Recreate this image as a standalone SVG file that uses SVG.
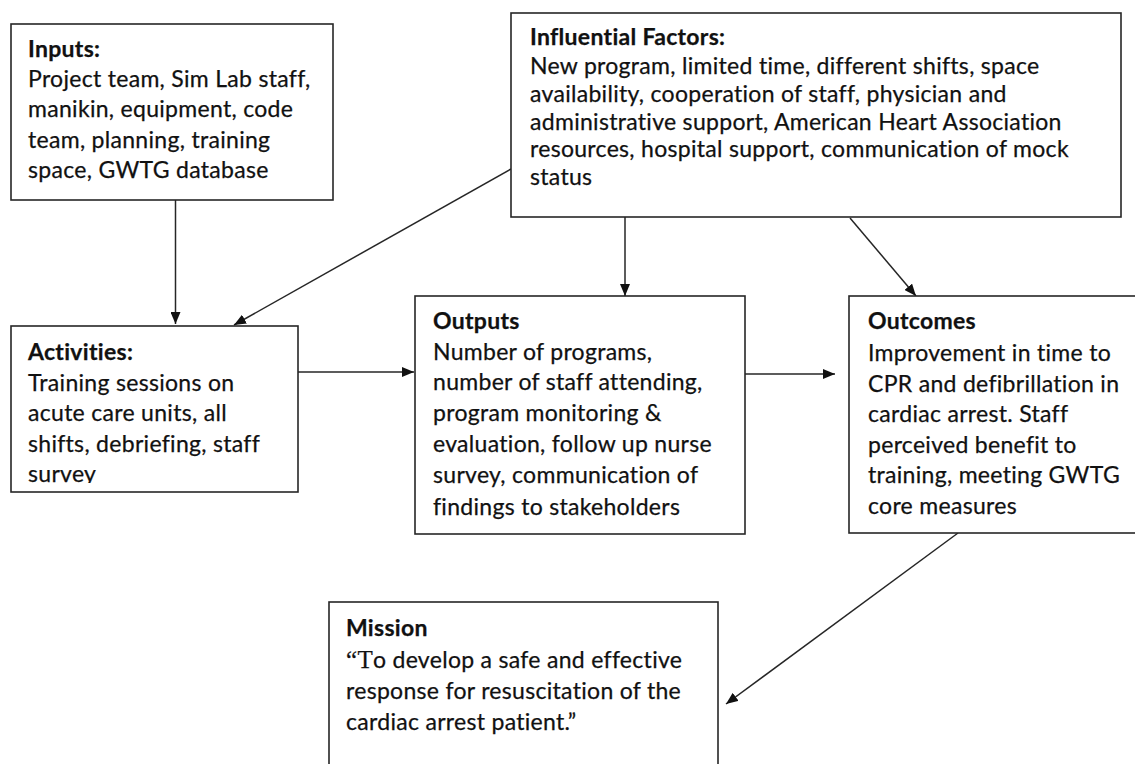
<svg xmlns="http://www.w3.org/2000/svg" width="1135" height="764" viewBox="0 0 1135 764">
  <style>
    .box { fill: #ffffff; stroke: #262626; stroke-width: 1.6; }
    .txt { font-family: Lato, "Open Sans", "Liberation Sans", sans-serif; font-size: 23px; letter-spacing: 0.3px; fill: #111111; stroke: #111111; stroke-width: 0.25; }
    .ttl { font-weight: bold; }
    .link { fill: none; stroke: #262626; stroke-width: 1.5; }
  </style>
  <defs>
    <marker id="arrow" viewBox="0 0 12 10" refX="12" refY="5" markerWidth="12" markerHeight="10" markerUnits="userSpaceOnUse" orient="auto">
      <path d="M0,0 L12,5 L0,10 Z" fill="#111111"/>
    </marker>
    <clipPath id="clip-activities">
      <rect x="11" y="326" width="287" height="157"/>
    </clipPath>
  </defs>

  <rect width="1135" height="764" fill="#ffffff"/>

  <!-- connectors -->
  <g id="connectors">
    <line class="link" x1="175.5" y1="193" x2="175.5" y2="324" marker-end="url(#arrow)"/>
    <line class="link" x1="511" y1="169" x2="234" y2="325" marker-end="url(#arrow)"/>
    <line class="link" x1="298" y1="372" x2="414" y2="372" marker-end="url(#arrow)"/>
    <line class="link" x1="625" y1="217" x2="625" y2="296" marker-end="url(#arrow)"/>
    <line class="link" x1="745" y1="374" x2="835" y2="374" marker-end="url(#arrow)"/>
    <line class="link" x1="850" y1="218" x2="916" y2="296" marker-end="url(#arrow)"/>
    <line class="link" x1="958" y1="533" x2="726" y2="704" marker-end="url(#arrow)"/>
  </g>

  <!-- Inputs -->
  <g id="inputs">
    <rect class="box" x="11" y="24" width="322" height="176"/>
    <text class="txt" x="28">
      <tspan class="ttl" x="28" y="57">Inputs:</tspan>
      <tspan x="28" y="87">Project team, Sim Lab staff,</tspan>
      <tspan x="28" y="117">manikin, equipment, code</tspan>
      <tspan x="28" y="148">team, planning, training</tspan>
      <tspan x="28" y="178">space, GWTG database</tspan>
    </text>
  </g>

  <!-- Influential Factors -->
  <g id="influential-factors">
    <rect class="box" x="511" y="13" width="610" height="204"/>
    <text class="txt" x="530">
      <tspan class="ttl" x="530" y="45">Influential Factors:</tspan>
      <tspan x="530" y="74">New program, limited time, different shifts, space</tspan>
      <tspan x="530" y="102">availability, cooperation of staff, physician and</tspan>
      <tspan x="530" y="130">administrative support, American Heart Association</tspan>
      <tspan x="530" y="157">resources, hospital support, communication of mock</tspan>
      <tspan x="530" y="185">status</tspan>
    </text>
  </g>

  <!-- Activities -->
  <g id="activities">
    <rect class="box" x="11" y="326" width="287" height="166"/>
    <text class="txt" x="28" clip-path="url(#clip-activities)">
      <tspan class="ttl" x="28" y="360">Activities:</tspan>
      <tspan x="28" y="391">Training sessions on</tspan>
      <tspan x="28" y="421">acute care units, all</tspan>
      <tspan x="28" y="452">shifts, debriefing, staff</tspan>
      <tspan x="28" y="482">survey</tspan>
    </text>
  </g>

  <!-- Outputs -->
  <g id="outputs">
    <rect class="box" x="415" y="296" width="330" height="238"/>
    <text class="txt" x="433">
      <tspan class="ttl" x="433" y="329">Outputs</tspan>
      <tspan x="433" y="360">Number of programs,</tspan>
      <tspan x="433" y="390">number of staff attending,</tspan>
      <tspan x="433" y="421">program monitoring &amp;</tspan>
      <tspan x="433" y="452">evaluation, follow up nurse</tspan>
      <tspan x="433" y="483">survey, communication of</tspan>
      <tspan x="433" y="515">findings to stakeholders</tspan>
    </text>
  </g>

  <!-- Outcomes -->
  <g id="outcomes">
    <rect class="box" x="849" y="296" width="300" height="237"/>
    <text class="txt" x="868">
      <tspan class="ttl" x="868" y="329">Outcomes</tspan>
      <tspan x="868" y="361">Improvement in time to</tspan>
      <tspan x="868" y="392">CPR and defibrillation in</tspan>
      <tspan x="868" y="422">cardiac arrest. Staff</tspan>
      <tspan x="868" y="453">perceived benefit to</tspan>
      <tspan x="868" y="483">training, meeting GWTG</tspan>
      <tspan x="868" y="514">core measures</tspan>
    </text>
  </g>

  <!-- Mission -->
  <g id="mission">
    <rect class="box" x="329" y="602" width="389" height="170"/>
    <text class="txt" x="346">
      <tspan class="ttl" x="346" y="636">Mission</tspan>
      <tspan x="346" y="668"><tspan font-family="'Liberation Serif', serif" font-size="25">“T</tspan>o develop a safe and effective</tspan>
      <tspan x="346" y="699">response for resuscitation of the</tspan>
      <tspan x="346" y="730">cardiac arrest patient.”</tspan>
    </text>
  </g>
</svg>
